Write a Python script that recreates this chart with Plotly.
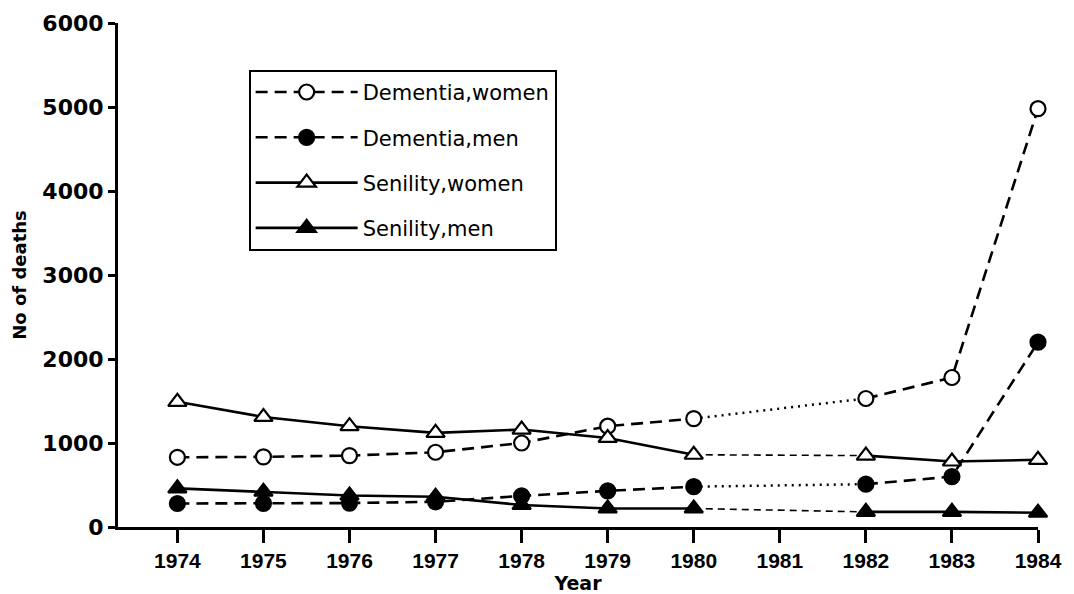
import plotly.graph_objects as go

years = [1974, 1975, 1976, 1977, 1978, 1979, 1980, 1981, 1982, 1983, 1984]
tick_labels = [str(y) for y in years]

dementia_women = [830, 835, 850, 890, 1000, 1200, 1290, None, 1530, 1780, 4980]
dementia_men = [280, 282, 285, 300, 370, 430, 480, None, 510, 600, 2200]
senility_women = [1490, 1310, 1200, 1120, 1160, 1060, 860, None, 850, 780, 800]
senility_men = [460, 420, 375, 360, 262, 220, 220, None, 180, 180, 170]

series = [
    ("Dementia,women", dementia_women, "circle", "white", "dash", "dot", 15),
    ("Dementia,men", dementia_men, "circle", "black", "dash", "dot", 15),
    ("Senility,women", senility_women, "triangle-up", "white", "solid", "dash", 16),
    ("Senility,men", senility_men, "triangle-up", "black", "solid", "dash", 16),
]

fig = go.Figure()
i80 = years.index(1980)
i82 = years.index(1982)
for name, vals, sym, fill, dash, gapdash, msize in series:
    # connector across the missing year
    fig.add_trace(go.Scatter(
        x=[years[i80], years[i82]], y=[vals[i80], vals[i82]],
        mode="lines", showlegend=False, legendgroup=name,
        line=dict(color="black", width=2.5 if gapdash == "dot" else 1.6,
                  dash="2px,5px" if gapdash == "dot" else "7px,5px"),
        hoverinfo="skip", cliponaxis=False,
    ))
    fig.add_trace(go.Scatter(
        x=years, y=vals, name=name, legendgroup=name,
        mode="lines+markers", connectgaps=False,
        line=dict(color="black", width=2.6, dash="12px,7px" if dash == "dash" else "solid"),
        marker=dict(symbol=sym, size=msize, color=fill,
                    line=dict(color="black", width=2.2)),
        cliponaxis=False,
    ))

fig.update_layout(
    width=1066, height=586,
    margin=dict(l=110, r=36, t=15, b=67),
    plot_bgcolor="white", paper_bgcolor="white",
    font=dict(family="DejaVu Sans", color="black", size=18),
    legend=dict(
        x=0.142, y=0.907, xanchor="left", yanchor="top",
        bordercolor="black", borderwidth=2, bgcolor="white",
        font=dict(family="DejaVu Sans", size=21, color="black"),
        tracegroupgap=15, itemwidth=102,
    ),
    xaxis=dict(
        range=[1973.31, 1984], tickmode="array", tickvals=years, ticktext=tick_labels,
        showgrid=False, zeroline=False, showline=True, linecolor="black", linewidth=3,
        ticks="outside", ticklen=13, tickwidth=2.5, tickcolor="black", automargin=False,
        tickfont=dict(family="Liberation Sans", size=21, weight="bold"),
        title=dict(text="Year", font=dict(family="DejaVu Sans", size=19, weight="bold"), standoff=2),
    ),
    yaxis=dict(
        range=[0, 6000], tickmode="array", tickvals=[0, 1000, 2000, 3000, 4000, 5000, 6000],
        showgrid=False, zeroline=False, showline=True, linecolor="black", linewidth=3,
        ticks="outside", ticklen=7, tickwidth=2.5, tickcolor="black", automargin=False,
        tickfont=dict(family="DejaVu Sans", size=22, weight="bold"),
        title=dict(text="No of deaths", font=dict(family="DejaVu Sans", size=18, weight="bold"), standoff=12),
    ),
)

fig.write_html("out.html")
